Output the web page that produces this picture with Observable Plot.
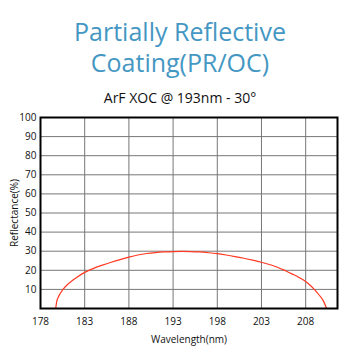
<!DOCTYPE html>
<html>
<head>
<meta charset="utf-8">
<script src="https://cdn.jsdelivr.net/npm/d3@7"></script>
<script src="https://cdn.jsdelivr.net/npm/@observablehq/plot@0.6"></script>
<style>
  html, body { margin: 0; padding: 0; background: #fff; }
  #wrap { position: relative; width: 360px; height: 360px; overflow: hidden; }
  .t { position: absolute; left: 0; width: 360px; text-align: center; white-space: nowrap; }
  #title { top: 16px; font-family: "Open Sans", sans-serif; font-size: 25px; line-height: 31px; color: #4597c3; }
  #subtitle { top: 88px; font-family: "Open Sans", sans-serif; font-size: 14px; color: #111; }
  #chart { position: absolute; left: 0; top: 0; }
</style>
</head>
<body>
<div id="wrap">
  <div id="chart"></div>
  <div class="t" id="title">Partially Reflective<br>Coating(PR/OC)</div>
  <div class="t" id="subtitle">ArF XOC @ 193nm - 30°</div>
</div>
<script>
const wavelength = [179.72, 179.85, 180.0, 180.2, 180.55, 181, 181.5, 182, 183, 184, 185, 186, 187, 188, 189, 190, 191, 192, 193, 194, 195, 196, 197, 198, 199, 200, 201, 202, 203, 204, 205, 205.5, 206, 206.5, 207, 207.5, 208, 208.5, 209, 209.5, 210, 210.37];
const reflectance = [0, 4, 5.8, 7.6, 10, 12.3, 14.3, 16, 18.9, 21.0, 22.7, 24.2, 25.6, 26.9, 28.0, 28.8, 29.3, 29.6, 29.8, 29.9, 29.8, 29.6, 29.2, 28.7, 28.0, 27.2, 26.3, 25.3, 24.2, 22.9, 21.2, 20.2, 19.1, 18.0, 16.9, 15.6, 14.1, 12.2, 9.9, 7.2, 4.0, 0];
const xTicks = [178, 183, 188, 193, 198, 203, 208];
const yTicks = [10, 20, 30, 40, 50, 60, 70, 80, 90, 100];
const xGrid = [183, 188, 193, 198, 203, 208];
const yGrid = [10, 20, 30, 40, 50, 60, 70, 80, 90];

const data = wavelength.map((w, i) => ({w, r: reflectance[i]}));

const chart = Plot.plot({
  width: 360,
  height: 360,
  marginTop: 117,
  marginLeft: 40,
  marginRight: 23,
  marginBottom: 52,
  style: {fontFamily: "'Open Sans', sans-serif", fontSize: "10px", color: "#111", background: "transparent"},
  x: {domain: [178, 211.6], ticks: xTicks, tickSize: 0, tickPadding: 9, label: null},
  y: {domain: [0, 100], ticks: yTicks, tickSize: 0, tickPadding: 4, label: null},
  marks: [
    Plot.ruleX(xGrid, {stroke: "#777", strokeWidth: 1}),
    Plot.ruleY(yGrid, {stroke: "#777", strokeWidth: 1}),
    Plot.line(data, {x: "w", y: "r", stroke: "#ff3a22", strokeWidth: 1.2, curve: "monotone-x"}),
    Plot.frame({stroke: "#000", strokeWidth: 2}),
    Plot.axisX({ticks: xTicks, tickSize: 0, tickPadding: 9, label: "Wavelength(nm)", labelAnchor: "center", labelArrow: "none", labelOffset: 34, fontSize: 10}),
    Plot.axisY({ticks: yTicks, tickSize: 0, tickPadding: 4, label: "Reflectance(%)", labelAnchor: "center", labelArrow: "none", labelOffset: 30, fontSize: 10})
  ]
});
document.getElementById("chart").appendChild(chart);
</script>
</body>
</html>
